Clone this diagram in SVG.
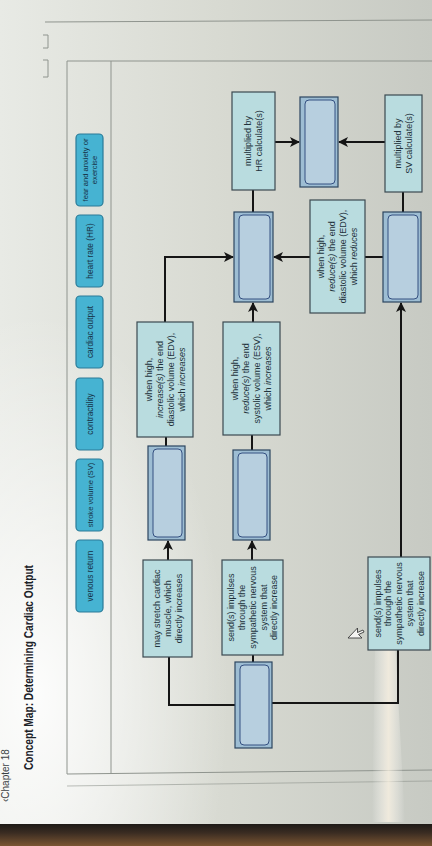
<svg xmlns="http://www.w3.org/2000/svg" width="432" height="846" viewBox="0 0 432 846">
<defs>
<linearGradient id="bg" x1="0" y1="0" x2="1" y2="0">
<stop offset="0" stop-color="#e8eae5"/>
<stop offset="0.5" stop-color="#d8dad2"/>
<stop offset="1" stop-color="#c7cac3"/>
</linearGradient>
<radialGradient id="glare" cx="0.08" cy="0.82" r="0.45">
<stop offset="0" stop-color="#ffffff" stop-opacity="0.9"/>
<stop offset="1" stop-color="#ffffff" stop-opacity="0"/>
</radialGradient>
<linearGradient id="streak" x1="0" y1="0" x2="1" y2="0">
<stop offset="0" stop-color="#ffffff" stop-opacity="0"/>
<stop offset="0.5" stop-color="#fff6e6" stop-opacity="0.7"/>
<stop offset="1" stop-color="#ffffff" stop-opacity="0"/>
</linearGradient>
<linearGradient id="bezel" x1="0" y1="0" x2="0" y2="1">
<stop offset="0" stop-color="#1e1a17"/>
<stop offset="0.4" stop-color="#3a2c22"/>
<stop offset="1" stop-color="#7a5532"/>
</linearGradient>
<marker id="arr" viewBox="0 0 10 10" refX="9" refY="5" markerWidth="10" markerHeight="10" markerUnits="userSpaceOnUse" orient="auto">
<path d="M0,0 L10,5 L0,10 L2.5,5 z" fill="#151515"/>
</marker>
<style>
.btn rect{fill:#46b3d2;stroke:#2a7b98;stroke-width:1.2}
.btn text{font-family:"Liberation Sans",Arial,sans-serif;font-size:8.3px;fill:#163246;text-anchor:middle}
.btn .sm{font-size:7.6px}
.tb rect{fill:#b9dcdf;stroke:#3b4950;stroke-width:1.2}
.tb text{font-family:"Liberation Sans",Arial,sans-serif;font-size:9px;fill:#22323b;text-anchor:middle}
.it{font-style:italic}
.bl .o{fill:#9dbdd3;stroke:#2c4560;stroke-width:1.2}
.bl .i{fill:#b7cfdf;stroke:#345081;stroke-width:1}
.conn path{fill:none;stroke:#151515;stroke-width:2}
.conn .a{marker-end:url(#arr)}
.frame{fill:none;stroke:#8f948e;stroke-width:1}
.title{font-family:"Liberation Sans",Arial,sans-serif;font-size:12px;font-weight:bold;fill:#1c2228}
.chap{font-family:"Liberation Sans",Arial,sans-serif;font-size:10px;fill:#3a3f44}
</style>
</defs>

<rect x="0" y="0" width="432" height="846" fill="url(#bg)"/>
<rect x="0" y="0" width="432" height="846" fill="url(#glare)"/>

<g id="frame">
<line class="frame" x1="45" y1="22" x2="432" y2="20"/>
<line class="frame" x1="67" y1="61" x2="432" y2="61"/>
<line class="frame" x1="67" y1="61" x2="67" y2="774"/>
<line class="frame" x1="111" y1="61" x2="111" y2="774"/>
<line class="frame" x1="67" y1="774" x2="432" y2="770"/>
<line class="frame" x1="67" y1="786" x2="432" y2="781" stroke-opacity="0.6"/>
<path class="frame" d="M43,35 H48 V48 H43 M43,60 H48 V77 H43" stroke="#7d827c" stroke-width="1.2"/>
</g>

<polygon points="375,640 395,640 405,822 372,822" fill="url(#streak)"/>

<g transform="matrix(0 -1 1 0 0 846)">

<text class="chap" x="44" y="9">‹Chapter 18</text>
<text class="title" x="76" y="33" textLength="205" lengthAdjust="spacingAndGlyphs">Concept Map: Determining Cardiac Output</text>

<g id="btn-fear" class="btn"><rect x="640" y="76" width="72" height="27" rx="4"/><text class="sm" x="676" y="87.5">fear and anxiety or</text><text class="sm" x="676" y="97">exercise</text></g>
<g id="btn-hr" class="btn"><rect x="559" y="76" width="72" height="27" rx="4"/><text x="595" y="92.5">heart rate (HR)</text></g>
<g id="btn-co" class="btn"><rect x="478" y="76" width="72" height="27" rx="4"/><text x="514" y="92.5">cardiac output</text></g>
<g id="btn-contr" class="btn"><rect x="396" y="76" width="72" height="27" rx="4"/><text x="432" y="92.5">contractility</text></g>
<g id="btn-sv" class="btn"><rect x="315" y="76" width="72" height="27" rx="4"/><text class="sm" x="351" y="92.5">stroke volume (SV)</text></g>
<g id="btn-vr" class="btn"><rect x="234" y="76" width="72" height="27" rx="4"/><text x="270" y="92.5">venous return</text></g>

<g id="connectors" class="conn">
<path class="a" d="M704,275 V299"/>
<path class="a" d="M704,385 V339"/>
<path d="M634,253 H656"/>
<path d="M634,403 H654"/>
<path d="M589,383 V365"/>
<path class="a" d="M589,310 V274"/>
<path class="a" d="M524,165 H589 V233"/>
<path class="a" d="M524,253 H543"/>
<path d="M400,166 H409"/>
<path d="M396,252 H411"/>
<path class="a" d="M286,168 H305"/>
<path class="a" d="M286,252 H305"/>
<path d="M184,253 H191"/>
<path d="M189,169 H141 V235"/>
<path d="M143,272 V398 H196"/>
<path class="a" d="M289,401 H543"/>
</g>

<g id="blank-co" class="bl"><rect class="o" x="659" y="300" width="90" height="38"/><rect class="i" x="662" y="305" width="84" height="30" rx="4"/></g>
<g id="calc-hr" class="tb"><rect x="656" y="232" width="98" height="43"/><text x="705" y="251.2">multiplied by</text><text x="705" y="262.2">HR calculate(s)</text></g>
<g id="calc-sv" class="tb"><rect x="654" y="385" width="97" height="37"/><text x="702.5" y="401.2">multiplied by</text><text x="702.5" y="412.2">SV calculate(s)</text></g>
<g id="blank-sv" class="bl"><rect class="o" x="544" y="234" width="90" height="39"/><rect class="i" x="547" y="239" width="84" height="31" rx="4"/></g>
<g id="blank-hr" class="bl"><rect class="o" x="544" y="383" width="90" height="38"/><rect class="i" x="547" y="388" width="84" height="30" rx="4"/></g>
<g id="edv-reduce" class="tb"><rect x="533" y="310" width="113" height="55"/><text x="589.5" y="324">when high,</text><text x="589.5" y="335"><tspan class="it">reduce(s)</tspan> the end</text><text x="589.5" y="346">diastolic volume (EDV),</text><text x="589.5" y="357">which <tspan class="it">reduces</tspan></text></g>
<g id="edv-increase" class="tb"><rect x="409" y="137" width="115" height="56"/><text x="466.5" y="151.5">when high,</text><text x="466.5" y="162.5"><tspan class="it">increase(s)</tspan> the end</text><text x="466.5" y="173.5">diastolic volume (EDV),</text><text x="466.5" y="184.5">which <tspan class="it">increases</tspan></text></g>
<g id="esv" class="tb"><rect x="411" y="223" width="113" height="57"/><text x="467.5" y="238">when high,</text><text x="467.5" y="249"><tspan class="it">reduce(s)</tspan> the end</text><text x="467.5" y="260">systolic volume (ESV),</text><text x="467.5" y="271">which <tspan class="it">increases</tspan></text></g>
<g id="blank-edv" class="bl"><rect class="o" x="306" y="148" width="94" height="37"/><rect class="i" x="309" y="153" width="88" height="29" rx="4"/></g>
<g id="blank-contr" class="bl"><rect class="o" x="306" y="233" width="90" height="37"/><rect class="i" x="309" y="238" width="84" height="29" rx="4"/></g>
<g id="stretch" class="tb"><rect x="189" y="143" width="97" height="49"/><text x="237.5" y="159.7">may stretch cardiac</text><text x="237.5" y="170.7">muscle, which</text><text x="237.5" y="181.7">directly increases</text></g>
<g id="symp-1" class="tb"><rect x="191" y="222" width="95" height="61"/><text x="238.5" y="234.1">send(s) impulses</text><text x="238.5" y="244.9">through the</text><text x="238.5" y="255.7">sympathetic nervous</text><text x="238.5" y="266.5">system that</text><text x="238.5" y="277.3">directly increase</text></g>
<g id="blank-fear" class="bl"><rect class="o" x="98" y="235" width="86" height="37"/><rect class="i" x="101" y="240" width="80" height="29" rx="4"/></g>
<g id="symp-2" class="tb"><rect x="196" y="368" width="93" height="62"/><text x="242.5" y="380.6">send(s) impulses</text><text x="242.5" y="391.4">through the</text><text x="242.5" y="402.2">sympathetic nervous</text><text x="242.5" y="413">system that</text><text x="242.5" y="423.8">directly increase</text></g>

<path id="cursor" d="M208,348 L208,362 L211.5,358.5 L214,364 L216,363 L213.5,357.5 L218,357.5 Z" fill="#f4f4f2" stroke="#3a3a3a" stroke-width="0.9"/>
</g>

<rect x="0" y="824" width="432" height="22" fill="url(#bezel)"/>
</svg>
